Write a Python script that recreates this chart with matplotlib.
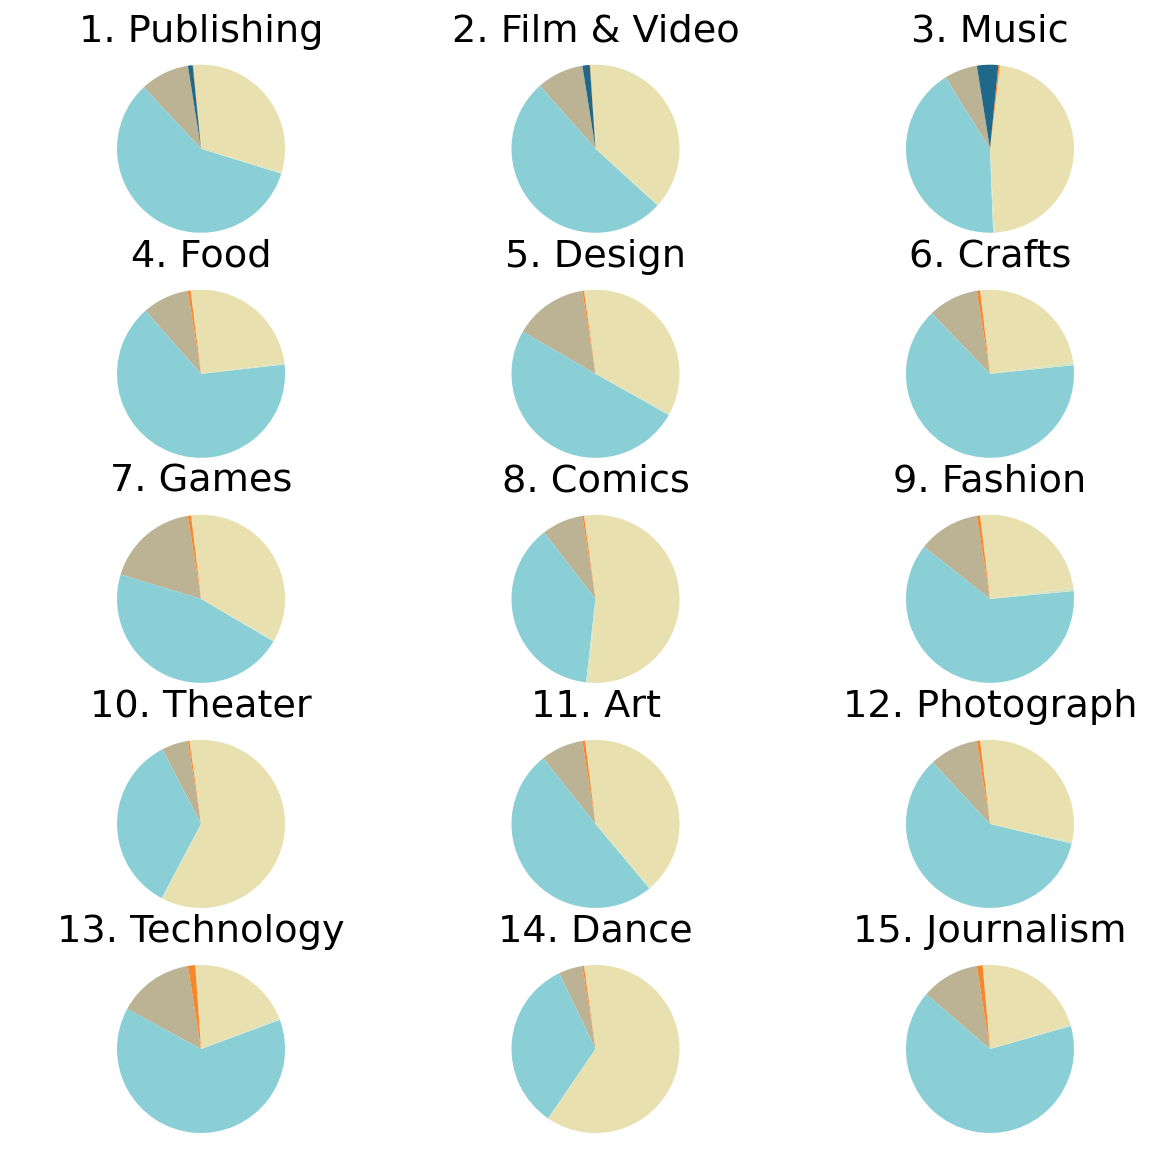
import matplotlib
matplotlib.use('Agg')
import matplotlib.pyplot as plt

# order of slices: canceled, failed, live, successful, suspended, undefined
states = ['canceled', 'failed', 'live', 'successful', 'suspended', 'undefined']
colors = ['#bcb294', '#8bcfd6', '#d3e4c2', '#e8e0af', '#f7862a', '#1f688a']

categories = ['Publishing', 'Film & Video', 'Music', 'Food', 'Design',
              'Crafts', 'Games', 'Comics', 'Fashion', 'Theater',
              'Art', 'Photograph', 'Technology', 'Dance', 'Journalism']

# share of projects per state (%)
canceled   = [9.4, 9.0, 6.4, 9.0, 14.0, 9.7, 17.8, 8.0, 11.8, 5.1, 8.2, 9.4, 14.6, 4.6, 11.2]
failed     = [58.3, 51.6, 41.9, 65.2, 49.7, 64.3, 46.1, 37.8, 61.9, 34.6, 50.3, 59.2, 63.6, 33.4, 65.7]
live       = [0.3, 0.2, 0.3, 0.3, 0.3, 0.5, 0.3, 0.5, 0.6, 0.3, 0.3, 0.3, 0.4, 0.1, 0.3]
successful = [31.0, 37.5, 47.4, 24.9, 34.7, 24.7, 35.0, 53.6, 24.7, 59.6, 40.6, 30.3, 20.1, 61.7, 21.7]
suspended  = [0.1, 0.1, 0.3, 0.5, 0.3, 0.6, 0.6, 0.3, 0.6, 0.3, 0.5, 0.6, 1.4, 0.3, 1.1]
undefined  = [0.9, 1.4, 4.1, 0.0, 0.0, 0.0, 0.0, 0.0, 0.0, 0.0, 0.0, 0.0, 0.0, 0.0, 0.0]

fig, axes = plt.subplots(5, 3, figsize=(11.68, 11.5), dpi=100)
plt.subplots_adjust(left=0.0437, right=0.976, top=0.962, bottom=-0.0035,
                    wspace=0.315, hspace=0.0714)

for i, ax in enumerate(axes.flat):
    vals = [canceled[i], failed[i], live[i], successful[i], suspended[i], undefined[i]]
    ax.pie(vals, colors=colors, startangle=99)
    ax.set_title(f'{i + 1}. {categories[i]}', fontsize=27.5, y=1.0, pad=1.5)

plt.savefig('out.png', dpi=100)
